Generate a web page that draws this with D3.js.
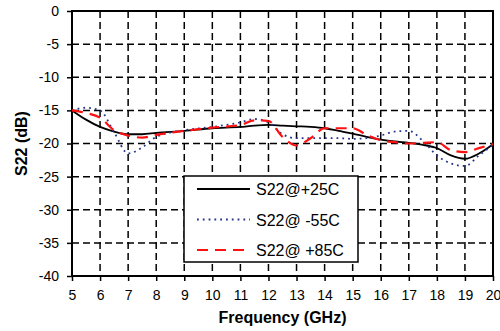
<!DOCTYPE html>
<html>
<head>
<meta charset="utf-8">
<script src="https://cdn.jsdelivr.net/npm/d3@7"></script>
<style>
  body { margin: 0; background: #fff; }
  text { font-family: "Liberation Sans", Arial, sans-serif; fill: #000; }
</style>
</head>
<body>
<div id="chart"></div>
<script>
const freq = [5, 5.5, 6, 6.5, 7, 7.5, 8, 9, 10, 11, 11.5, 12, 12.5, 13, 13.5, 14, 14.5, 15, 15.5, 16, 16.5, 17, 17.5, 18, 18.5, 19, 19.5, 20];
const s22p25 = [-15, -16.4, -17.5, -18.2, -18.6, -18.6, -18.4, -18.1, -17.7, -17.5, -17.3, -17.2, -17.3, -17.4, -17.5, -17.7, -18.1, -18.5, -19.0, -19.4, -19.7, -19.9, -20.2, -20.7, -21.8, -22.3, -21.5, -20.1];
const s22m55 = [-15, -14.6, -15.0, -18.3, -21.5, -20.6, -19.0, -18.0, -17.5, -16.8, -16.3, -16.8, -18.6, -19.2, -19.2, -19.2, -19.2, -19.3, -19.2, -18.8, -18.2, -18.1, -19.6, -21.8, -23.0, -23.4, -21.8, -20.2];
const s22p85 = [-15, -15.4, -16.1, -18.0, -18.8, -19.1, -18.7, -18.1, -17.6, -17.2, -16.5, -16.6, -19.0, -20.3, -19.2, -17.7, -17.7, -17.7, -18.7, -19.5, -19.8, -20.0, -19.9, -19.8, -21.0, -21.3, -20.7, -20.1];
const seriesNames = ["S22@+25C", "S22@ -55C", "S22@ +85C"];
const xTicks = d3.range(5, 21, 1);
const yTicks = d3.range(-40, 1, 5);

const width = 500, height = 331;
const margin = {top: 11, right: 7, bottom: 55, left: 72};

const svg = d3.select("#chart").append("svg")
  .attr("width", width)
  .attr("height", height);

const x = d3.scaleLinear().domain([5, 20]).range([margin.left, width - margin.right]);
const y = d3.scaleLinear().domain([-40, 0]).range([height - margin.bottom, margin.top]);

// grid
const grid = svg.append("g");
grid.selectAll("line.vg")
  .data(xTicks.slice(1, -1))
  .enter().append("line")
  .attr("x1", d => x(d)).attr("x2", d => x(d))
  .attr("y1", y(0)).attr("y2", y(-40))
  .attr("stroke", "#000").attr("stroke-width", 1.5)
  .attr("stroke-dasharray", "7,4");
grid.selectAll("line.hg")
  .data(yTicks.slice(1, -1))
  .enter().append("line")
  .attr("x1", x(5)).attr("x2", x(20))
  .attr("y1", d => y(d)).attr("y2", d => y(d))
  .attr("stroke", "#000").attr("stroke-width", 1.5)
  .attr("stroke-dasharray", "7,4");

// axes (plain hyphen for negatives, like the original)
const fmt = d => String(d);
const xAxis = svg.append("g")
  .attr("transform", "translate(0," + y(-40) + ")")
  .call(d3.axisBottom(x).tickValues(xTicks).tickSize(5).tickPadding(9).tickFormat(fmt));
const yAxis = svg.append("g")
  .attr("transform", "translate(" + x(5) + ",0)")
  .call(d3.axisLeft(y).tickValues(yTicks).tickSize(5).tickPadding(8).tickFormat(fmt));
[xAxis, yAxis].forEach(a => {
  a.select(".domain").remove();
  a.selectAll(".tick line").attr("stroke", "#000").attr("stroke-width", 1.5);
  a.selectAll(".tick text").style("font-size", "14px").style("font-family", "Liberation Sans, Arial, sans-serif");
});

// frame
svg.append("rect")
  .attr("x", x(5)).attr("y", y(0))
  .attr("width", x(20) - x(5)).attr("height", y(-40) - y(0))
  .attr("fill", "none").attr("stroke", "#000").attr("stroke-width", 2);

// lines
const line = d3.line()
  .x((d, i) => x(freq[i]))
  .y(d => y(d))
  .curve(d3.curveMonotoneX);

const styles = [
  {data: s22p25, color: "#000", width: 1.8, dash: null},
  {data: s22m55, color: "#27348b", width: 1.8, dash: "1.8,4"},
  {data: s22p85, color: "#ff1010", width: 2.2, dash: "11,7"}
];

svg.append("g").selectAll("path")
  .data(styles)
  .enter().append("path")
  .attr("d", d => line(d.data))
  .attr("fill", "none")
  .attr("stroke", d => d.color)
  .attr("stroke-width", d => d.width)
  .attr("stroke-dasharray", d => d.dash);

// legend
const legend = svg.append("g");
legend.append("rect")
  .attr("x", 184).attr("y", 176)
  .attr("width", 174).attr("height", 86)
  .attr("fill", "#fff").attr("stroke", "#000").attr("stroke-width", 1.5);
const item = legend.selectAll("g.item")
  .data(styles)
  .enter().append("g")
  .attr("transform", (d, i) => "translate(0," + (189 + i * 30.5) + ")");
item.append("line")
  .attr("x1", 197).attr("x2", 250)
  .attr("stroke", d => d.color)
  .attr("stroke-width", d => d.width)
  .attr("stroke-dasharray", d => d.dash);
item.append("text")
  .attr("x", 256).attr("y", 6)
  .style("font-size", "16px")
  .text((d, i) => seriesNames[i]);

// axis titles
svg.append("text")
  .attr("x", (x(5) + x(20)) / 2).attr("y", 323)
  .attr("text-anchor", "middle")
  .style("font-size", "16px").style("font-weight", "bold")
  .text("Frequency (GHz)");
svg.append("text")
  .attr("transform", "translate(27," + ((y(0) + y(-40)) / 2) + ") rotate(-90)")
  .attr("text-anchor", "middle")
  .style("font-size", "16px").style("font-weight", "bold")
  .text("S22 (dB)");
</script>
</body>
</html>
